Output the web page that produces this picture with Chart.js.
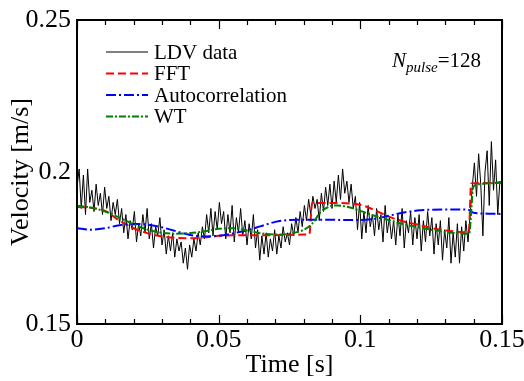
<!DOCTYPE html>
<html>
<head>
<meta charset="utf-8">
<script src="https://cdn.jsdelivr.net/npm/chart.js@4.4.1/dist/chart.umd.min.js"></script>
<style>
  html, body { margin: 0; padding: 0; background: #fff; }
  #chart { display: block; }
</style>
</head>
<body>
<canvas id="chart" width="524" height="381"></canvas>
<script>
// campionamento LDV (s)
const ldvStep = 0.00075;
const ldvVelocity = [
  0.195, 0.201, 0.188, 0.199, 0.186, 0.201, 0.190, 0.194, 0.187, 0.196,
  0.189, 0.193, 0.186, 0.195, 0.188, 0.192, 0.184, 0.190, 0.186, 0.191,
  0.183, 0.188, 0.180, 0.186, 0.178, 0.184, 0.181, 0.187, 0.177, 0.183,
  0.179, 0.186, 0.180, 0.188, 0.178, 0.183, 0.175, 0.182, 0.179, 0.185,
  0.176, 0.181, 0.173, 0.179, 0.174, 0.180, 0.172, 0.178, 0.174, 0.177,
  0.170, 0.175, 0.168, 0.176, 0.172, 0.178, 0.174, 0.180, 0.176, 0.182,
  0.178, 0.186, 0.180, 0.188, 0.179, 0.187, 0.181, 0.190, 0.183, 0.187,
  0.178, 0.186, 0.180, 0.189, 0.177, 0.185, 0.180, 0.188, 0.179, 0.184,
  0.176, 0.183, 0.178, 0.186, 0.175, 0.181, 0.171, 0.179, 0.173, 0.180,
  0.172, 0.178, 0.174, 0.181, 0.173, 0.179, 0.175, 0.182, 0.177, 0.180,
  0.176, 0.183, 0.179, 0.185, 0.180, 0.187, 0.182, 0.189, 0.184, 0.191,
  0.186, 0.192, 0.188, 0.191, 0.184, 0.193, 0.187, 0.195, 0.189, 0.196,
  0.188, 0.197, 0.190, 0.199, 0.191, 0.201, 0.193, 0.197, 0.190, 0.196,
  0.188, 0.192, 0.181, 0.190, 0.178, 0.187, 0.180, 0.189, 0.182, 0.186,
  0.179, 0.188, 0.181, 0.186, 0.177, 0.189, 0.180, 0.185, 0.178, 0.184,
  0.176, 0.186, 0.179, 0.188, 0.175, 0.184, 0.180, 0.187, 0.176, 0.185,
  0.178, 0.186, 0.174, 0.184, 0.177, 0.187, 0.179, 0.185, 0.173, 0.183,
  0.176, 0.184, 0.171, 0.181, 0.175, 0.185, 0.170, 0.180, 0.172, 0.183,
  0.170, 0.182, 0.174, 0.184, 0.177, 0.186, 0.195, 0.203, 0.192, 0.206,
  0.196, 0.179, 0.200, 0.207, 0.189, 0.210, 0.194, 0.204, 0.186, 0.197,
  0.196
];

const fftTime = [0, 0.005, 0.010, 0.015, 0.020, 0.025, 0.030, 0.035, 0.040, 0.045,
  0.050, 0.055, 0.060, 0.065, 0.070, 0.075, 0.080, 0.0820, 0.0830, 0.090,
  0.095, 0.100, 0.105, 0.110, 0.115, 0.120, 0.125, 0.130, 0.135, 0.1383,
  0.1391, 0.145, 0.150];
const fftVelocity = [0.1885, 0.1882, 0.1872, 0.1840, 0.1815, 0.1798, 0.1788, 0.1783, 0.1782, 0.1785,
  0.1790, 0.1792, 0.1792, 0.1792, 0.1792, 0.1793, 0.1794, 0.1795, 0.1898, 0.1898,
  0.1897, 0.1892, 0.1875, 0.1853, 0.1838, 0.1827, 0.1816, 0.1808, 0.1803, 0.1802,
  0.1962, 0.1964, 0.1964];

const acTime = [0, 0.005, 0.010, 0.015, 0.020, 0.025, 0.030, 0.035, 0.040, 0.045,
  0.050, 0.055, 0.060, 0.065, 0.070, 0.075, 0.080, 0.085, 0.090, 0.095,
  0.100, 0.105, 0.110, 0.115, 0.120, 0.125, 0.130, 0.135, 0.138, 0.140,
  0.145, 0.150];
const acVelocity = [0.1815, 0.1810, 0.1815, 0.1825, 0.1829, 0.1827, 0.1818, 0.1805, 0.1793, 0.1788,
  0.1790, 0.1798, 0.1808, 0.1822, 0.1836, 0.1842, 0.1843, 0.1843, 0.1843, 0.1842,
  0.1842, 0.1846, 0.1856, 0.1866, 0.1873, 0.1876, 0.1877, 0.1877, 0.1876, 0.1866,
  0.1863, 0.1862];

const wtTime = [0, 0.005, 0.010, 0.015, 0.020, 0.025, 0.030, 0.035, 0.040, 0.045,
  0.050, 0.055, 0.060, 0.065, 0.070, 0.075, 0.080, 0.083, 0.086, 0.089,
  0.092, 0.096, 0.100, 0.105, 0.110, 0.115, 0.120, 0.125, 0.130, 0.135,
  0.1375, 0.1385, 0.1392, 0.1398, 0.142, 0.150];
const wtVelocity = [0.1889, 0.1883, 0.1870, 0.1850, 0.1828, 0.1810, 0.1800, 0.1797, 0.1799, 0.1805,
  0.1813, 0.1815, 0.1808, 0.1798, 0.1794, 0.1797, 0.1810, 0.1830, 0.1868, 0.1886,
  0.1890, 0.1884, 0.1872, 0.1856, 0.1842, 0.1829, 0.1819, 0.1810, 0.1803, 0.1798,
  0.1797, 0.1800, 0.1880, 0.1950, 0.1960, 0.1967];

const seriesLabels = ['LDV data', 'FFT', 'Autocorrelation', 'WT'];
const xMajorTicks = [0, 0.05, 0.1, 0.15];
const xMinorTicks = [0.01, 0.02, 0.03, 0.04, 0.06, 0.07, 0.08, 0.09, 0.11, 0.12, 0.13, 0.14];
const yTicks = [0.15, 0.2, 0.25];

const serif = "'Liberation Serif', 'Times New Roman', serif";

const toPoints = (t, v) => t.map((x, i) => ({ x: x, y: v[i] }));

// cornice, tacche interne, legenda e annotazione
const framePlugin = {
  id: 'frame',
  afterDraw(chart) {
    const { ctx, chartArea: a, scales } = chart;
    ctx.save();
    ctx.strokeStyle = '#000';
    ctx.lineWidth = 2;
    ctx.strokeRect(a.left, a.top, a.right - a.left, a.bottom - a.top);

    ctx.lineWidth = 1.2;
    const tick = (v, len) => {
      const px = Math.round(scales.x.getPixelForValue(v)) + 0.5;
      ctx.beginPath();
      ctx.moveTo(px, a.bottom); ctx.lineTo(px, a.bottom - len);
      ctx.moveTo(px, a.top); ctx.lineTo(px, a.top + len);
      ctx.stroke();
    };
    xMinorTicks.forEach(v => tick(v, 5));
    xMajorTicks.forEach(v => tick(v, 9));

    // legenda
    const rows = [52, 73.5, 95, 116.5];
    chart.data.datasets.forEach((ds, i) => {
      const y = rows[i];
      ctx.save();
      ctx.strokeStyle = ds.borderColor;
      ctx.lineWidth = ds.borderWidth;
      ctx.setLineDash(ds.borderDash || []);
      ctx.beginPath();
      ctx.moveTo(106, y); ctx.lineTo(148, y);
      ctx.stroke();
      ctx.restore();
      ctx.fillStyle = '#000';
      ctx.font = '21px ' + serif;
      ctx.textBaseline = 'middle';
      ctx.textAlign = 'left';
      ctx.fillText(ds.label, 154, y + 1);
    });

    // N_pulse=128
    ctx.fillStyle = '#000';
    ctx.textBaseline = 'alphabetic';
    ctx.textAlign = 'left';
    let x = 392;
    ctx.font = 'italic 21px ' + serif;
    ctx.fillText('N', x, 67);
    x += ctx.measureText('N').width;
    ctx.font = 'italic 15px ' + serif;
    ctx.fillText('pulse', x, 72);
    x += ctx.measureText('pulse').width;
    ctx.font = '21px ' + serif;
    ctx.fillText('=128', x, 67);
    ctx.restore();
  }
};

new Chart(document.getElementById('chart'), {
  type: 'line',
  data: {
    datasets: [
      {
        label: seriesLabels[0],
        data: ldvVelocity.map((v, i) => ({ x: i * ldvStep, y: v })),
        borderColor: '#000000',
        borderWidth: 1,
        pointRadius: 0,
        tension: 0,
        order: 4
      },
      {
        label: seriesLabels[1],
        data: toPoints(fftTime, fftVelocity),
        borderColor: '#ff0000',
        borderWidth: 2,
        borderDash: [8, 4],
        pointRadius: 0,
        cubicInterpolationMode: 'monotone',
        order: 3
      },
      {
        label: seriesLabels[2],
        data: toPoints(acTime, acVelocity),
        borderColor: '#0000ff',
        borderWidth: 2,
        borderDash: [10, 3, 2, 3],
        pointRadius: 0,
        cubicInterpolationMode: 'monotone',
        order: 2
      },
      {
        label: seriesLabels[3],
        data: toPoints(wtTime, wtVelocity),
        borderColor: '#008000',
        borderWidth: 2,
        borderDash: [7, 2, 2, 2],
        pointRadius: 0,
        cubicInterpolationMode: 'monotone',
        order: 1
      }
    ]
  },
  options: {
    responsive: false,
    animation: false,
    devicePixelRatio: 1,
    layout: { padding: { top: 20, right: 22, left: 0, bottom: 0 } },
    plugins: {
      legend: { display: false },
      tooltip: { enabled: false }
    },
    scales: {
      x: {
        type: 'linear',
        min: 0,
        max: 0.15,
        afterBuildTicks: s => { s.ticks = xMajorTicks.map(v => ({ value: v })); },
        afterFit: s => { s.height = 57; s.paddingLeft = 0; s.paddingRight = 0; },
        grid: { display: false, drawTicks: false },
        border: { display: false },
        ticks: {
          color: '#000',
          font: { family: serif, size: 26, lineHeight: 1 },
          padding: 3,
          maxRotation: 0,
          callback: v => String(+v.toFixed(4))
        },
        title: {
          display: true,
          text: 'Time [s]',
          color: '#000',
          font: { family: serif, size: 26, lineHeight: 1.2 },
          padding: { top: 0, bottom: 0 }
        }
      },
      y: {
        type: 'linear',
        min: 0.15,
        max: 0.25,
        afterBuildTicks: s => { s.ticks = yTicks.map(v => ({ value: v })); },
        afterFit: s => { s.width = 77; s.paddingTop = 0; s.paddingBottom = 0; },
        grid: { display: false, drawTicks: false },
        border: { display: false },
        ticks: {
          color: '#000',
          font: { family: serif, size: 26, lineHeight: 1 },
          padding: 6,
          callback: v => String(+v.toFixed(4))
        },
        title: {
          display: true,
          text: 'Velocity [m/s]',
          color: '#000',
          font: { family: serif, size: 26, lineHeight: 1.2 },
          padding: { top: 6, bottom: 0 }
        }
      }
    }
  },
  plugins: [framePlugin]
});
</script>
</body>
</html>
